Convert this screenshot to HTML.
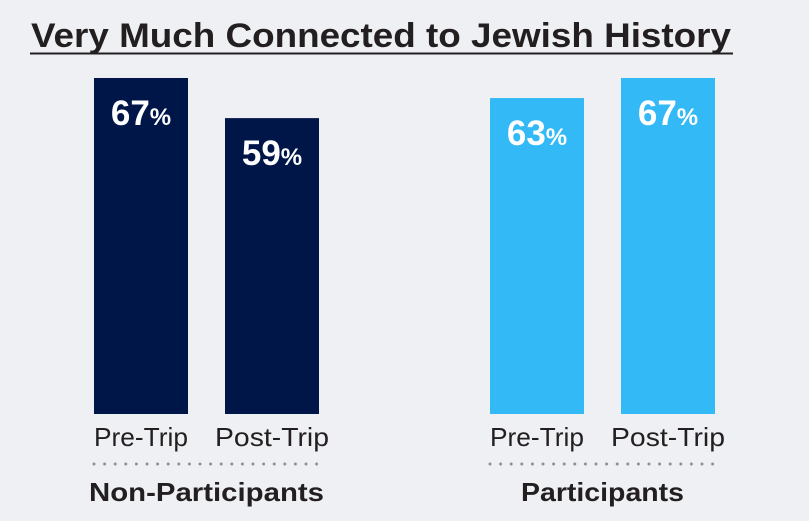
<!DOCTYPE html>
<html><head><meta charset="utf-8"><style>
body{margin:0;background:#eff0f4;}
svg{display:block;font-family:"Liberation Sans",sans-serif;}
</style></head><body>
<svg id="c" width="809" height="521">
<rect width="809" height="521" fill="#eff0f4"/>
<text x="31" y="47" font-size="34" font-weight="bold" fill="#231f20" textLength="700" lengthAdjust="spacingAndGlyphs">Very Much Connected to Jewish History</text>
<line x1="30" y1="53.5" x2="733" y2="53.5" stroke="#231f20" stroke-width="2"/>
</svg>
<script>
const groups=["Non-Participants","Participants"];
const categories=["Pre-Trip","Post-Trip"];
const nonParticipants=[67,59];
const participants=[63,67];
const series=[nonParticipants,participants];
const colors=["#001649","#33b9f6"];
const groupLabelW=[235,163];
const catLabelW=[94,114];
const svg=document.getElementById('c');
const NS="http://www.w3.org/2000/svg";
const base=414, pxPer=5.015;
const y=v=>base-v*pxPer;
const groupX=[94,490], barW=94, gap=131;
function mk(t,a){const e=document.createElementNS(NS,t);for(const k in a)e.setAttribute(k,a[k]);svg.appendChild(e);return e;}
series.forEach((vals,g)=>{
  vals.forEach((v,i)=>{
    const x=groupX[g]+i*gap;
    const r=mk('rect',{x:x,y:y(v),width:barW,height:base-y(v),fill:colors[g]});
    
    
    const t=mk('text',{x:x+barW/2,y:y(v)+47,'text-anchor':'middle',fill:'#fff','font-weight':'bold','font-size':35});
    t.innerHTML=v+'<tspan font-size="24">%</tspan>';
    
    
    const c=mk('text',{x:x+barW/2,y:446,'text-anchor':'middle',fill:'#231f20','font-size':26,textLength:catLabelW[i],lengthAdjust:'spacingAndGlyphs'});
    c.textContent=categories[i];
    
    
  });
  const mid=groupX[g]+(gap+barW)/2;
  for(let k=0;k<22;k++){
    const d=mk('circle',{cx:groupX[g]+k*10.6,cy:464,r:1.5,fill:'#8f8f99'});
    
    
  }
  const gl=mk('text',{x:mid,y:501,'text-anchor':'middle',fill:'#231f20','font-size':26,'font-weight':'bold',textLength:groupLabelW[g],lengthAdjust:'spacingAndGlyphs'});
  gl.textContent=groups[g];
  
  
});
</script>
</body></html>
